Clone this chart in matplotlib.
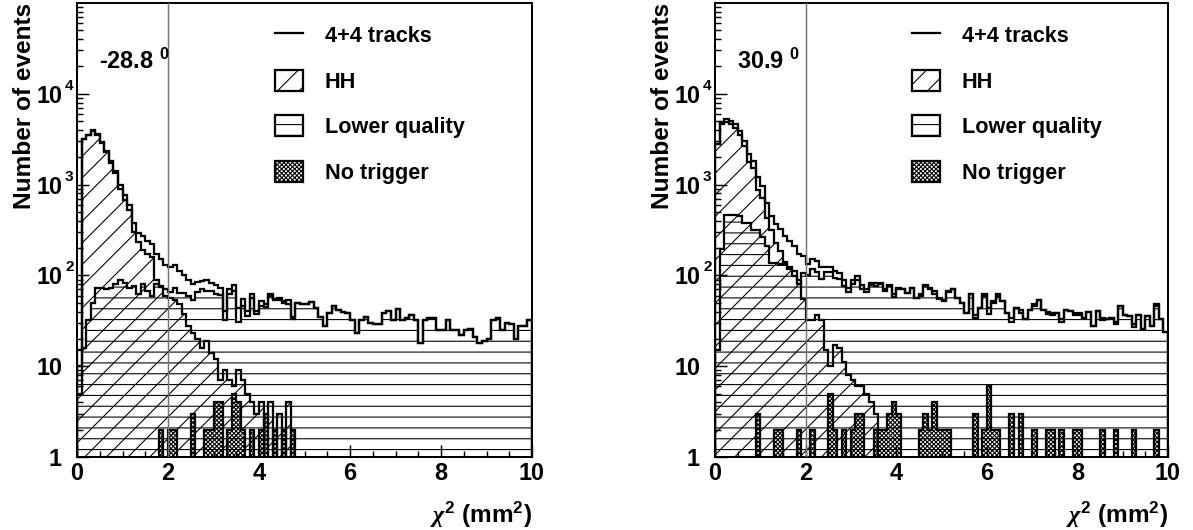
#!/usr/bin/env python3
"""Chi-square distributions of 4+4 track events for the two tilt settings."""

import matplotlib
matplotlib.use("Agg")
import matplotlib.pyplot as plt
import numpy as np
from matplotlib.lines import Line2D
from matplotlib.patches import Patch
from matplotlib.ticker import FixedLocator, MultipleLocator, NullFormatter
from matplotlib.transforms import blended_transform_factory, offset_copy

DPI = 130
PT = 72 / DPI  # points per pixel

plt.rcParams.update({
    "font.family": "Liberation Sans",
    "font.weight": "bold",
    "mathtext.fontset": "custom",
    "mathtext.rm": "Liberation Sans:bold",
    "mathtext.it": "Liberation Sans:bold:italic",
    "mathtext.bf": "Liberation Sans:bold",
    "mathtext.sf": "Liberation Serif:italic",
    "hatch.linewidth": 0.6,
    "axes.linewidth": 1.1,
})

# 100 bins of 0.1 mm^2 between 0 and 10
edges = np.linspace(0.0, 10.0, 101)

# ---- -28.8 deg ----
hh_neg = [5, 3140, 3520, 3930, 3560, 2880, 2270, 1750, 1330, 890,
          680, 520, 300, 233, 190, 172, 160, 90, 76, 59,
          57, 54, 48, 38, 28, 23, 20, 16, 19, 14,
          12, 7, 9, 7, 6, 9, 7, 5, 4, 3,
          4, 0, 4, 0, 3, 0, 4, 0, 0, 0] + [0] * 50
lq_neg = [10, 16, 32, 50, 72, 72, 71, 72, 80, 90,
          83, 72, 76, 62, 80, 68, 59, 80, 74, 71,
          66, 73, 64, 64, 60, 54, 65, 71, 68, 67,
          63, 61, 32, 62, 68, 31, 46, 36, 56, 38,
          46, 45, 59, 53, 54, 50, 49, 33, 50, 48,
          48, 51, 44, 35, 28, 39, 46, 42, 40, 39,
          32, 23, 32, 35, 30, 29, 29, 39, 41, 32,
          43, 32, 34, 37, 32, 18, 32, 34, 34, 25,
          25, 32, 25, 25, 22, 25, 26, 21, 18, 19,
          20, 32, 34, 25, 30, 29, 20, 28, 28, 32]
nt_neg_bins = [18, 20, 21, 25, 28, 29, 30, 31, 33, 34, 35, 36, 38, 40, 41, 43, 45, 47]
nt_neg_counts = [2, 2, 2, 3, 2, 2, 4, 4, 2, 5, 4, 2, 2, 2, 3, 2, 2, 2]

# ---- +30.9 deg ----
hh_pos = [2800, 4660, 4840, 4610, 4200, 3490, 2670, 1790, 1510, 880,
          710, 426, 314, 228, 187, 140, 123, 113, 88, 55,
          32, 32, 37, 32, 15, 10, 17, 16, 11, 8,
          7, 6, 6, 5, 4, 3, 0, 0, 0, 0] + [0] * 60
lq_pos = [15, 195, 460, 460, 460, 450, 380, 380, 320, 320,
          263, 209, 138, 136, 133, 132, 117, 98, 81, 107,
          100, 117, 108, 91, 108, 108, 93, 91, 77, 65,
          81, 89, 70, 65, 79, 77, 80, 68, 76, 58,
          70, 70, 64, 73, 57, 60, 76, 71, 63, 55,
          52, 65, 70, 57, 50, 39, 62, 34, 44, 60,
          38, 50, 60, 52, 39, 31, 44, 39, 33, 42,
          46, 54, 42, 38, 37, 39, 31, 42, 41, 37,
          37, 34, 40, 28, 41, 32, 33, 34, 29, 46,
          37, 36, 27, 37, 26, 36, 28, 46, 33, 24]
nt_pos_bins = [9, 13, 14, 18, 21, 25, 26, 28, 30, 31,
               32, 35, 36, 37, 38, 39, 40, 45, 46, 47,
               48, 49, 50, 51, 57, 59, 60, 61, 62, 65,
               67, 70, 73, 74, 76, 79, 80, 85, 88, 92, 97]
nt_pos_counts = [3, 2, 2, 2, 2, 5, 2, 2, 2, 3,
                 3, 2, 2, 2, 3, 4, 3, 2, 3, 2,
                 4, 2, 2, 2, 3, 2, 6, 2, 2, 3,
                 3, 2, 2, 2, 2, 2, 2, 2, 2, 2, 2]

legend_labels = ["4+4 tracks", "HH", "Lower quality", "No trigger"]
y_tick_values = [1, 10, 100, 1000, 10000]
y_tick_base = ["1", "10", "10", "10", "10"]
y_tick_power = ["", "", "2", "3", "4"]
x_tick_values = [0, 2, 4, 6, 8, 10]

FLOOR = 0.5  # below the axis minimum, stands in for empty bins
LW = 1.25
HATCH = {"hh": "//", "lq": "--", "nt": "x" * 10}


def sparse(bins, counts):
    out = np.zeros(len(edges) - 1)
    out[np.asarray(bins)] = counts
    return out


def shown(values):
    values = np.asarray(values, dtype=float)
    return np.where(values > 0, values, FLOOR)


def draw_panel(ax, hh, lq, nt, angle, tick_gap_px):
    hh = np.asarray(hh, dtype=float)
    lq = np.asarray(lq, dtype=float)
    total = hh + lq + nt

    ax.stairs(shown(lq), edges, baseline=FLOOR, fill=True, facecolor="none",
              edgecolor="black", hatch=HATCH["lq"], linewidth=LW)
    ax.stairs(shown(hh), edges, baseline=FLOOR, fill=True, facecolor="none",
              edgecolor="black", hatch=HATCH["hh"], linewidth=LW)
    ax.stairs(shown(nt), edges, baseline=FLOOR, fill=True, facecolor="none",
              edgecolor="black", hatch=HATCH["nt"], linewidth=LW)
    ax.stairs(shown(total), edges, baseline=FLOOR, color="black", linewidth=LW)
    ax.axvline(2.0, color="0.45", linewidth=0.8, zorder=3)

    ax.set_yscale("log")
    ax.set_xlim(0, 10)
    ax.set_ylim(1, 1e5)

    ax.xaxis.set_major_locator(FixedLocator(x_tick_values))
    ax.xaxis.set_minor_locator(MultipleLocator(0.5))
    ax.set_xticklabels([str(v) for v in x_tick_values])
    ax.yaxis.set_major_locator(FixedLocator(y_tick_values))
    ax.yaxis.set_minor_locator(FixedLocator(
        [m * 10 ** e for e in range(5) for m in range(2, 10)]))
    ax.yaxis.set_minor_formatter(NullFormatter())
    ax.tick_params(which="both", direction="in", top=False, right=False,
                   width=0.8, labelsize=13)
    ax.tick_params(which="major", length=12 * PT)
    ax.tick_params(which="minor", length=6 * PT)
    ax.tick_params(axis="x", pad=3)
    ax.tick_params(axis="y", labelleft=False)

    # y labels in the "10 ^n" style
    base = blended_transform_factory(ax.transAxes, ax.transData)
    fig = ax.figure
    for value, text, power in zip(y_tick_values, y_tick_base, y_tick_power):
        tr = offset_copy(base, fig=fig, x=-tick_gap_px * PT, y=0, units="points")
        ax.text(0, value, text, transform=tr, ha="right", va="center_baseline",
                fontsize=13, fontweight="bold")
        if power:
            tr = offset_copy(base, fig=fig, x=-(tick_gap_px - 3) * PT,
                             y=4 * PT, units="points")
            ax.text(0, value, power, transform=tr, ha="left", va="baseline",
                    fontsize=8.5, fontweight="bold")

    ax.set_xlabel(r"$\mathsf{\chi}^{2}$ (mm$^{2}$)", loc="right", fontsize=13.5,
                  fontweight="bold")
    ax.xaxis.set_label_coords(1.0, -0.095)
    ax.set_ylabel("Number of events", loc="top", fontsize=13.5, fontweight="bold")
    ax.yaxis.set_label_coords(-0.09, 1.0)

    ax.text(0.048, 0.855, angle + r" $^{0}$", transform=ax.transAxes,
            fontsize=13, fontweight="bold", va="baseline")

    handles = [
        Line2D([], [], color="black", linewidth=LW),
        Patch(facecolor="none", edgecolor="black", hatch=HATCH["hh"], linewidth=LW),
        Patch(facecolor="none", edgecolor="black", hatch=HATCH["lq"], linewidth=LW),
        Patch(facecolor="none", edgecolor="black", hatch=HATCH["nt"], linewidth=LW),
    ]
    ax.legend(handles, legend_labels, loc="upper left", bbox_to_anchor=(0.435, 0.953),
              frameon=False, fontsize=12, handlelength=1.3, handleheight=1.1,
              handletextpad=1.0, labelspacing=1.05, borderpad=0, borderaxespad=0)


fig = plt.figure(figsize=(1193 / DPI, 530 / DPI), dpi=DPI)
ax_neg = fig.add_axes([77 / 1193, 1 - 457 / 530, 455 / 1193, 454 / 530])
ax_pos = fig.add_axes([715 / 1193, 1 - 457 / 530, 453 / 1193, 454 / 530])

draw_panel(ax_neg, hh_neg, lq_neg, sparse(nt_neg_bins, nt_neg_counts), "-28.8", 15)
draw_panel(ax_pos, hh_pos, lq_pos, sparse(nt_pos_bins, nt_pos_counts), "30.9", 15)

fig.savefig("out.png", dpi=DPI)
